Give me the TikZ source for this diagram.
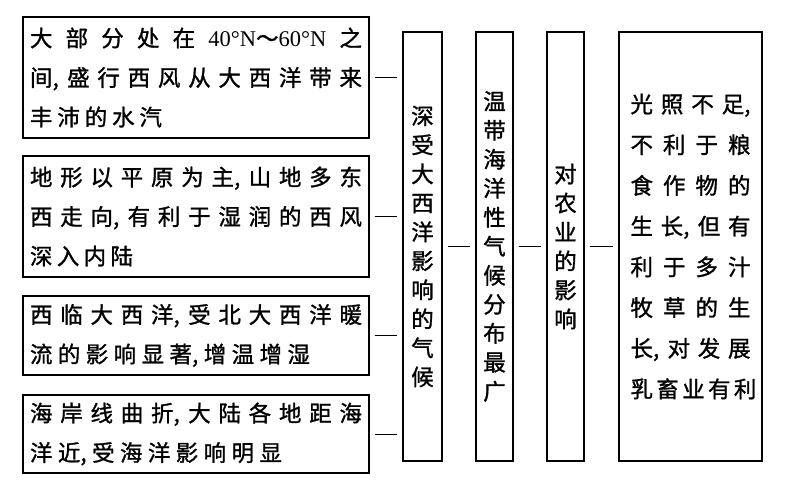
\documentclass[tikz,border=0pt]{standalone}
\usepackage{fontspec}
\newfontfamily\cjk[FakeBold=1.2]{Noto Sans CJK SC}
\newfontfamily\latin{Liberation Serif}
\usetikzlibrary{calc}
\tikzstyle{hbox}=[draw,line width=1.2pt,rectangle,minimum width=346pt,inner xsep=7pt,inner ysep=0pt,align=left,font=\cjk\fontsize{22.5}{39.5}\selectfont]
\tikzstyle{vbox}=[draw,line width=1.2pt,rectangle,minimum height=429pt,inner sep=0pt,align=center,font=\cjk\fontsize{22.5}{29}\selectfont]
\tikzstyle{link}=[draw,line width=0.9pt,shorten <=5pt,shorten >=5pt]
\newcommand{\fl}[2]{\makebox[#1pt][s]{#2}}

\begin{document}
\begin{tikzpicture}[x=1pt,y=-1pt]
    \useasboundingbox (0,0) rectangle (788,482);

    % left column: causes
    \node[hbox,minimum height=121pt] (l1) at (196,77.5) {\fl{332}{大 部 分 处 在 {\latin 40°N}～{\latin 60°N} 之}\\ \fl{332}{间, 盛 行 西 风 从 大 西 洋 带 来}\\ \fl{132}{丰 沛 的 水 汽}};
    \node[hbox,minimum height=121pt] (l2) at (196,216.5) {\fl{332}{地 形 以 平 原 为 主, 山 地 多 东}\\ \fl{332}{西 走 向, 有 利 于 湿 润 的 西 风}\\ \fl{103}{深 入 内 陆}};
    \node[hbox,minimum height=79pt] (l3) at (196,335.5) {\fl{332}{西 临 大 西 洋, 受 北 大 西 洋 暖}\\ \fl{280}{流 的 影 响 显 著, 增 温 增 湿}};
    \node[hbox,minimum height=78pt] (l4) at (196,434) {\fl{332}{海 岸 线 曲 折, 大 陆 各 地 距 海}\\ \fl{252}{洋 近, 受 海 洋 影 响 明 显}};

    % vertical boxes
    \node[vbox,minimum width=39pt] (v1) at (422.5,246.5) {深\\受\\大\\西\\洋\\影\\响\\的\\气\\候};
    \node[vbox,minimum width=37pt] (v2) at (494.5,246.5) {温\\带\\海\\洋\\性\\气\\候\\分\\布\\最\\广};
    \node[vbox,minimum width=37pt] (v3) at (565.5,246.5) {对\\农\\业\\的\\影\\响};
    \node[vbox,minimum width=143pt,align=left,font=\cjk\fontsize{22.5}{40.7}\selectfont] (v4) at (690.5,246.5) {\fl{120}{光 照 不 足,}\\ \fl{120}{不 利 于 粮}\\ \fl{120}{食 作 物 的}\\ \fl{120}{生 长, 但 有}\\ \fl{120}{利 于 多 汁}\\ \fl{120}{牧 草 的 生}\\ \fl{120}{长, 对 发 展}\\ \fl{120}{乳 畜 业 有 利}};

    % connectors
    \foreach \source in {l1,l2,l3,l4}
        \path[link] (\source.east) -- (\source.east -| v1.west);
    \foreach \source/ \dest in {v1/v2, v2/v3, v3/v4}
        \path[link] (\source) -- (\dest);

\end{tikzpicture}
\end{document}
